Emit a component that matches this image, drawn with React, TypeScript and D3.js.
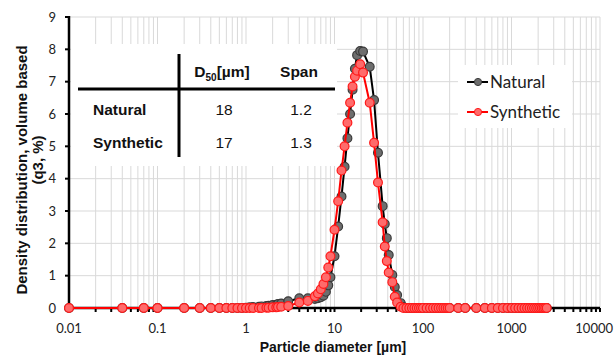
import React from 'react';
import * as d3 from 'd3';

// particle size classes [µm]
const diameters = [
  0.01, 0.04, 0.07, 0.1, 0.2, 0.3, 0.4, 0.5, 0.6, 0.7, 0.8, 0.9,
  1, 1.1, 1.2, 1.4, 1.5, 1.7, 1.8, 2, 2.2, 2.3, 2.5, 3,
  4, 5, 6, 6.5, 7, 7.5, 8, 8.5, 9,
  10, 11, 12, 13, 14, 15, 16, 17, 18, 19.5, 21,
  25, 28, 31, 35, 37, 39, 41, 45, 48, 51, 56, 60,
  65, 70, 75, 80, 85, 90, 95, 100, 110, 120, 130, 140, 150, 160, 170, 180, 190, 200,
  250, 300, 400, 500, 600, 700, 800, 900, 1000, 1100, 1200, 1300, 1400, 1500,
  1600, 1700, 1800, 1900, 2000, 2100, 2200, 2300, 2400, 2500,
];

// q3 density, %
const natural = [
  0, 0, 0, 0, 0, 0, 0, 0, 0, 0, 0, 0,
  0.01, 0.02, 0.03, 0.04, 0.05, 0.06, 0.07, 0.09, 0.1, 0.12, 0.14, 0.21,
  0.3, 0.3, 0.28, 0.3, 0.33, 0.38, 0.5, 0.7, 0.95,
  1.6, 2.52, 3.45, 4.37, 5.25, 6.0, 6.75, 7.4, 7.82, 7.95, 7.93,
  7.46, 6.43, 4.8, 3.15, 2.6, 2.16, 1.64, 1.02, 0.65, 0.4, 0.15, 0.03,
  0, 0, 0, 0, 0, 0, 0, 0, 0, 0, 0, 0, 0, 0, 0, 0, 0, 0,
  0, 0, 0, 0, 0, 0, 0, 0, 0, 0, 0, 0, 0, 0,
  0, 0, 0, 0, 0, 0, 0, 0, 0, 0,
];

const synthetic = [
  0, 0, 0, 0, 0, 0, 0, 0, 0, 0, 0, 0,
  0, 0, 0, 0, 0, 0.01, 0.01, 0.02, 0.02, 0.03, 0.04, 0.06,
  0.17, 0.22, 0.36, 0.45, 0.58, 0.74, 0.95, 1.25, 1.6,
  2.42, 3.3, 4.25, 5.0, 5.73, 6.35, 6.85, 7.15, 7.34, 7.54, 7.28,
  6.35, 5.11, 3.88, 2.65, 1.9, 1.45, 1.1, 0.8, 0.35, 0.17, 0.04, 0,
  0, 0, 0, 0, 0, 0, 0, 0, 0, 0, 0, 0, 0, 0, 0, 0, 0, 0,
  0, 0, 0, 0, 0, 0, 0, 0, 0, 0, 0, 0, 0, 0,
  0, 0, 0, 0, 0, 0, 0, 0, 0, 0,
];

const xTicks = [0.01, 0.1, 1, 10, 100, 1000, 10000];
const xTickLabels = ['0.01', '0.1', '1', '10', '100', '1000', '10000'];
const yTicks = [0, 1, 2, 3, 4, 5, 6, 7, 8, 9];

const tableRows = ['Natural', 'Synthetic'];
const tableD50 = ['18', '17'];
const tableSpan = ['1.2', '1.3'];

const seriesNames = ['Natural', 'Synthetic'];

const W = 614;
const H = 356;
const left = 69, right = 600, top = 17, bottom = 308;

const calibri = 'Lato, Carlito, Calibri, sans-serif';
const arial = '"Liberation Sans", Arial, sans-serif';

const styles = [
  { line: '#000000', fill: '#6e6e6e', stroke: '#3a3a3a' },
  { line: '#ff0000', fill: '#ff6b6b', stroke: '#ff1a1a' },
];

export default function App() {
  const x = d3.scaleLog().domain([0.01, 10000]).range([left, right]);
  const y = d3.scaleLinear().domain([0, 9]).range([bottom, top]);

  // minor grid positions 1..9 per decade
  const gridX: number[] = [];
  for (let e = -2; e < 4; e++) {
    for (let m = 1; m <= 9; m++) gridX.push(m * Math.pow(10, e));
  }
  gridX.push(10000);

  const line = d3.line<number>()
    .x((_, i) => x(diameters[i]))
    .y(d => y(d));

  const series = [natural, synthetic];

  return (
    <svg width={W} height={H} style={{ position: 'absolute', left: 0, top: 0, background: '#fff' }}>
      {/* grid */}
      <g stroke="#d9d9d9" strokeWidth={1}>
        {gridX.map((g, i) => (
          <line key={'gx' + i} x1={x(g)} x2={x(g)} y1={top} y2={bottom} />
        ))}
        {yTicks.filter(t => t > 0).map(t => (
          <line key={'gy' + t} x1={left} x2={right} y1={y(t)} y2={y(t)} />
        ))}
      </g>

      {/* table background */}
      <rect x={71} y={44} width={266} height={122} fill="#fff" />
      {/* legend background */}
      <rect x={458} y={65} width={114} height={63} fill="#fff" />

      {/* axes */}
      <g stroke="#000" strokeWidth={2}>
        {gridX.filter(g => g > 0.01).map((g, i) => (
          <line key={'tx' + i} x1={x(g)} x2={x(g)} y1={bottom} y2={bottom + 4} />
        ))}
        {yTicks.map(t => (
          <line key={'ty' + t} x1={left - 4} x2={left} y1={y(t)} y2={y(t)} />
        ))}
        <line x1={left} x2={left} y1={top - 1} y2={bottom + 1} strokeWidth={2.5} />
        <line x1={left} x2={right} y1={bottom} y2={bottom} strokeWidth={2.5} />
      </g>

      {/* tick labels */}
      <g fontFamily={calibri} fontSize={13} fill="#222">
        {yTicks.map(t => (
          <text key={'ly' + t} x={56} y={y(t)} dy="0.35em" textAnchor="end">{t}</text>
        ))}
        {xTicks.map((t, i) => (
          <text key={'lx' + t} x={i === xTicks.length - 1 ? 613 : x(t)} y={333}
            textAnchor={i === xTicks.length - 1 ? 'end' : 'middle'}>{xTickLabels[i]}</text>
        ))}
      </g>

      {/* series */}
      {series.map((s, k) => (
        <g key={'s' + k}>
          <path d={line(s) || ''} fill="none" stroke={styles[k].line} strokeWidth={2} />
          {s.map((v, i) => (
            <circle key={i} cx={x(diameters[i])} cy={y(v)} r={4.4}
              fill={styles[k].fill} stroke={styles[k].stroke} strokeWidth={1.2} />
          ))}
        </g>
      ))}

      {/* axis titles */}
      <text x={333} y={352} textAnchor="middle" fontFamily={arial} fontWeight="bold" fontSize={14} fill="#111">
        Particle diameter [µm]
      </text>
      <text transform="translate(27,170) rotate(-90)" textAnchor="middle" fontFamily={arial} fontWeight="bold" fontSize={15} fill="#111">
        Density distribution, volume based
      </text>
      <text transform="translate(43,160) rotate(-90)" textAnchor="middle" fontFamily={arial} fontWeight="bold" fontSize={15} fill="#111">
        (q3, %)
      </text>

      {/* inset table */}
      <g fontFamily={arial} fontSize={15.5} fill="#111">
        <line x1={78} x2={335} y1={89} y2={89} stroke="#000" strokeWidth={3} />
        <line x1={179} x2={179} y1={54} y2={157} stroke="#000" strokeWidth={3} />
        <text x={222} y={77} textAnchor="middle" fontWeight="bold">
          D<tspan fontSize={10} dy={4}>50</tspan><tspan dy={-4}>[µm]</tspan>
        </text>
        <text x={299} y={77} textAnchor="middle" fontWeight="bold">Span</text>
        {tableRows.map((r, i) => (
          <g key={r}>
            <text x={93} y={115 + i * 33} fontWeight="bold">{r}</text>
            <text x={224} y={115 + i * 33} textAnchor="middle">{tableD50[i]}</text>
            <text x={301} y={115 + i * 33} textAnchor="middle">{tableSpan[i]}</text>
          </g>
        ))}
      </g>

      {/* legend */}
      <g fontFamily={calibri} fontSize={17} fill="#222">
        {seriesNames.map((n, i) => (
          <g key={n} transform={`translate(0,${82 + i * 30})`}>
            <line x1={467} x2={488} y1={0} y2={0} stroke={styles[i].line} strokeWidth={2} />
            <circle cx={478} cy={0} r={3.6} fill={styles[i].fill} stroke={styles[i].stroke} strokeWidth={1} />
            <text x={490} y={6}>{n}</text>
          </g>
        ))}
      </g>
    </svg>
  );
}
